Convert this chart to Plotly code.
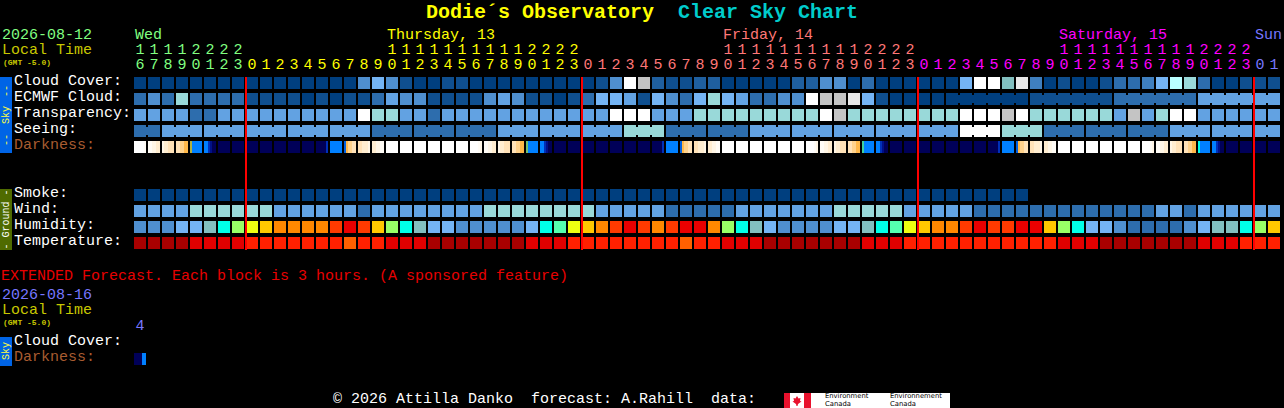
import plotly.graph_objects as go

# ---------- data ----------
HOURS = [16,17,18,19,20,21,22,23,
         0,1,2,3,4,5,6,7,8,9,10,11,12,13,14,15,16,17,18,19,20,21,22,23,
         0,1,2,3,4,5,6,7,8,9,10,11,12,13,14,15,16,17,18,19,20,21,22,23,
         0,1,2,3,4,5,6,7,8,9,10,11,12,13,14,15,16,17,18,19,20,21,22,23,
         0,1]
DAY_FIRST_COLUMN = [0, 8, 32, 56, 80]
DAY_COLORS = ["#80ff80", "#ffff00", "#ff7777", "#ff00ff", "#7777ff"]
DAY_NAMES = ["Wed", "Thursday, 13", "Friday, 14", "Saturday, 15", "Sun"]
DAY_NAME_COLUMN = [0, 18, 42, 66, 80]

# Level indices into PALETTE
CLOUD_COVER = [0,0,0,0,0,0,0,0,0,0,
               0,0,0,0,0,0,3,5,3,1,
               0,0,1,1,0,0,0,0,0,0,
               0,0,0,1,3,7,8,13,1,1,
               13,13,0,0,0,0,0,13,13,3,
               3,0,2,0,0,0,0,0,0,5,
               7,7,10,9,12,0,1,0,0,1,
               2,2,12,5,11,6,2,0,0,1,
               1,1]
ECMWF_CLOUD = [2,3,2,6,2,2,2,2,1,1,
               1,1,0,1,0,1,1,2,4,3,
               3,1,1,1,1,3,4,3,1,1,
               0,1,2,5,5,4,1,5,3,2,
               5,6,5,4,2,2,3,3,7,8,
               8,9,5,1,0,0,0,0,0,0,
               0,0,0,0,1,1,1,1,1,1,
               2,2,2,2,2,2,4,4,4,4,
               4,4]
TRANSPARENCY = [4,4,4,4,2,2,4,4,4,4,
                4,4,4,4,4,4,7,6,6,4,
                4,2,4,4,4,4,4,4,4,4,
                4,4,4,4,7,7,7,4,4,4,
                6,6,6,6,6,6,6,6,6,7,
                8,6,6,6,6,6,6,6,6,7,
                7,7,8,7,6,6,6,6,6,6,
                4,8,4,6,7,7,4,4,4,4,
                4,4]
SEEING = [2,2,4,4,4,4,4,4,4,4,
          4,4,4,4,4,4,4,2,2,2,
          2,2,2,2,2,2,4,4,4,4,
          4,4,4,4,4,6,6,6,2,2,
          2,2,2,2,4,4,4,4,4,4,
          4,4,4,4,4,4,4,4,4,7,
          7,7,6,6,6,2,2,2,2,2,
          2,2,2,2,4,4,4,4,4,4,
          4,4]
SMOKE = [0,0,0,0,0,0,0,0,0,0,
         0,0,0,0,0,0,0,0,0,0,
         0,0,0,0,0,0,0,0,0,0,
         0,0,0,0,0,0,0,0,0,0,
         0,0,0,0,0,0,0,0,0,0,
         0,0,0,0,0,0,0,0,0,0,
         0,0,0,0,None,None,None,None,None,None,
         None,None,None,None,None,None,None,None,None,None,
         None,None]
WIND = [4,4,4,4,6,6,6,6,6,6,
        4,4,4,4,4,4,2,4,4,4,
        4,4,4,4,4,6,6,6,6,6,
        6,6,6,4,4,4,4,4,2,2,
        2,2,2,4,4,4,4,4,4,4,
        6,6,6,6,6,4,4,4,4,4,
        2,2,2,2,2,2,2,2,2,2,
        2,2,2,4,4,2,4,4,4,4,
        4,4]
HUMIDITY = [3,3,3,5,5,10,14,16,17,18,
            19,19,19,19,20,21,20,18,16,14,
            10,5,5,3,3,3,3,3,5,14,
            15,17,18,19,20,21,20,19,20,21,
            21,19,16,14,10,5,3,3,3,3,
            5,5,10,14,15,17,18,19,19,20,
            21,20,20,21,21,18,16,14,5,5,
            3,2,2,2,2,3,5,10,10,14,
            16,18]
TEMPERATURE = [22,22,22,22,23,23,23,23,24,24,
               24,24,24,24,24,25,24,24,23,23,
               23,22,22,22,22,22,22,22,23,23,
               23,24,24,24,24,24,24,24,24,25,
               24,24,23,23,23,22,22,22,22,22,
               22,22,23,23,23,24,24,24,24,24,
               24,24,24,24,24,24,23,23,23,22,
               22,22,22,22,22,22,23,23,23,24,
               24,24]
PALETTE = ["#003f7f","#0f4f8f","#2d6dad","#4f8fcf","#62a2e2","#74b4f4","#99d9d9",
           "#ffffff","#c4c4c4","#e8e8e8","#82bfbf","#b9ffff","#3f7fbf","#1f5f9f",
           "#00ffe8","#55ffb0","#99ff66","#eeff11","#ffc800","#ff8800","#ff3a00",
           "#ea0000","#a80000","#e00000","#ff2000","#ff6000"]

# Darkness: six samples across each block
DARKNESS = ["WWWWWV","VVIICC","ICCEEE","EEPPOO","YBBBBB","BBMDNN","NNNNNN","NNNNNN",
            "NNNNNN","NNNNNN","NNNNNN","NNNNNN","NNNNNN","NNNNNM","BBBBBB","UOPPEE",
            "EECCCI","CCIIVV","WWWWWW","WWWWWW","WWWWWW","WWWWWW","WWWWWW","WWWWWW",
            "WWWWVI","VVIICC","ICCEEE","EEPPOO","GBBBBB","BBMDNN","NNNNNN","NNNNNN",
            "NNNNNN","NNNNNN","NNNNNN","NNNNNN","NNNNNN","NNNNNM","BBBBBB","UOPPEE",
            "EECCCI","CCIIVV","WWWWWW","WWWWWW","WWWWWW","WWWWWW","WWWWWW","WWWWWW",
            "WWWWVI","VVIICC","ICCEEE","EEPPOO","TBBBBB","BBMDNN","NNNNNN","NNNNNN",
            "NNNNNN","NNNNNN","NNNNNN","NNNNNN","NNNNNN","NNNNNM","BBBBBB","UOPPEE",
            "EECCCI","CCIIVV","WWWWWW","WWWWWW","WWWWWW","WWWWWW","WWWWWW","WWWWWW",
            "WWWWVI","VVIICC","ICCEEE","EEPPOO","XBBBBB","BBMDNN","NNNNNN","NNNNNN",
            "NNNNNN","NNNNNN"]
EXTENDED_DARKNESS = ["NNNNBB"]
EXTENDED_HOURS = [4]
DARK_CODES = "WVICEPOYGTXBUMDN"
DARK_COLORS = ["#ffffff","#fffcf6","#fff6e6","#ffedd0","#ffe2b8","#ffd28c","#ffb84a",
               "#b0b040","#70c070","#40d0a0","#00ffe8","#0080ff","#0060e0","#0030b8",
               "#001088","#000058"]

# Blocks that the chart joins together
SEEING_BLOCK_FIRST = [0,2,5,8,11,14,17,20,23,26,29,32,35,38,41,44,47,50,53,56,59,62,65,68,71,74,77,80]
ECMWF_BLOCK_FIRST = [58,64,70,76]
ECMWF_BLOCK_LEN = 6
MIDNIGHT_COLUMNS = [8,32,56,80]

ROW_LABELS = ["Cloud Cover:","ECMWF Cloud:","Transparency:","Seeing:","Darkness:",
              "Smoke:","Wind:","Humidity:","Temperature:"]
ROW_LABEL_ROWS = [0,1,2,3,4,7,8,9,10]

# ---------- geometry: axis units <-> page pixels ----------
W, H = 1284, 408
X = lambda px: (px - 140) / 14
Y = lambda py: (py - 83) / 16
FONT = "Liberation Mono, DejaVu Sans Mono, monospace"

fig = go.Figure()

def scale(colors):
    n = len(colors) - 1
    return [[i / n, c] for i, c in enumerate(colors)]

cols = list(range(len(HOURS)))
blank = [None] * len(HOURS)
main_z = [CLOUD_COVER, ECMWF_CLOUD, TRANSPARENCY, SEEING, blank, blank, blank,
          SMOKE, WIND, HUMIDITY, TEMPERATURE]
fig.add_trace(go.Heatmap(x=cols, y=list(range(11)), z=main_z, xgap=2, ygap=4,
                         colorscale=scale(PALETTE), zmin=0, zmax=len(PALETTE) - 1,
                         showscale=False, hoverinfo="skip"))

def dark_row(blocks, y):
    xs, zs = [], []
    for c, s in enumerate(blocks):
        for k in range(7):
            xs.append(c + (2 * k - 5) / 14)
            zs.append(DARK_CODES.index(s[k]) if k < 6 else None)
    fig.add_trace(go.Heatmap(x=xs, y=[y], z=[zs], ygap=4, xgap=0,
                             colorscale=scale(DARK_COLORS), zmin=0, zmax=len(DARK_COLORS) - 1,
                             showscale=False, hoverinfo="skip"))

dark_row(DARKNESS, 4)
dark_row(EXTENDED_DARKNESS, Y(359))

# connectors between joined blocks
def connectors(values, row, firsts, lengths):
    by_color = {}
    for f, n in zip(firsts, lengths):
        last = min(f + n - 1, len(values) - 1)
        if last > f:
            by_color.setdefault(values[f], []).extend([(f, last)])
    for lvl, segs in by_color.items():
        xs, ys = [], []
        for a, b in segs:
            xs += [a, b, None]
            ys += [row, row, None]
        fig.add_trace(go.Scatter(x=xs, y=ys, mode="lines", hoverinfo="skip", showlegend=False,
                                 line=dict(color=PALETTE[lvl], width=8)))

see_len = [b - a for a, b in zip(SEEING_BLOCK_FIRST, SEEING_BLOCK_FIRST[1:] + [len(HOURS)])]
connectors(SEEING, 3, SEEING_BLOCK_FIRST, see_len)
connectors(ECMWF_CLOUD, 1, ECMWF_BLOCK_FIRST, [ECMWF_BLOCK_LEN] * len(ECMWF_BLOCK_FIRST))

# midnight lines
xs, ys = [], []
for c in MIDNIGHT_COLUMNS:
    xs += [c - 6 / 14, c - 6 / 14, None]
    ys += [Y(77), Y(250), None]
fig.add_trace(go.Scatter(x=xs, y=ys, mode="lines", hoverinfo="skip", showlegend=False,
                         line=dict(color="#ff0000", width=2)))

# hour digits
for d, first in enumerate(DAY_FIRST_COLUMN):
    end = DAY_FIRST_COLUMN[d + 1] if d + 1 < len(DAY_FIRST_COLUMN) else len(HOURS)
    cc = cols[first:end]
    hh = HOURS[first:end]
    fig.add_trace(go.Scatter(x=cc, y=[Y(65)] * len(cc), mode="text", text=[str(h % 10) for h in hh],
                             textfont=dict(family=FONT, size=15, color=DAY_COLORS[d]),
                             hoverinfo="skip", showlegend=False))
    tx = [c for c, h in zip(cc, hh) if h >= 10]
    tt = [str(h // 10) for h in hh if h >= 10]
    fig.add_trace(go.Scatter(x=tx, y=[Y(50)] * len(tx), mode="text", text=tt,
                             textfont=dict(family=FONT, size=15, color=DAY_COLORS[d]),
                             hoverinfo="skip", showlegend=False))

fig.add_trace(go.Scatter(x=[0], y=[Y(326)], mode="text", text=[str(h) for h in EXTENDED_HOURS],
                         textfont=dict(family=FONT, size=15, color="#7777ff"),
                         hoverinfo="skip", showlegend=False))

anns = []
def ann(text, px, py, color="#ffffff", size=15, family=FONT, angle=0, anchor="left"):
    if anchor == "left":          # text sits one pixel left of / below the anchor in the reference
        px, py = px - 1, py + 1
    anns.append(dict(text=text, x=px / W, y=1 - py / H, xref="paper", yref="paper",
                     xanchor=anchor, yanchor="middle", showarrow=False, textangle=angle,
                     borderpad=0, font=dict(family=family, size=size, color=color)))

ann("<b>Dodie´s Observatory</b>", 426, 11, "#ffff00", 20)
ann("<b>Clear Sky Chart</b>", 678, 11, "#00cccc", 20)
ann("2026-08-12", 2, 34.5, "#80ff80")
ann("Local Time", 2, 49.5, "#c8c800")
ann("<b>(GMT -5.0)</b>", 3, 61, "#c8c800", 8)
for name, c, col in zip(DAY_NAMES, DAY_NAME_COLUMN, DAY_COLORS):
    ann(name, 134 + 14 * c + 1, 34.5, col)

for lab, r in zip(ROW_LABELS, ROW_LABEL_ROWS):
    ann(lab, 14, 80.5 + 16 * r, "#a85c30" if lab.startswith("Dark") else "#ffffff")

ann("EXTENDED Forecast. Each block is 3 hours. (A sponsored feature)", 1, 275.5, "#e80000")
ann("2026-08-16", 2, 294.5, "#7777ff")
ann("Local Time", 2, 309.5, "#c8c800")
ann("<b>(GMT -5.0)</b>", 3, 321, "#c8c800", 8)
ann("Cloud Cover:", 14, 340.5)
ann("Darkness:", 14, 356.5, "#a85c30")
ann("© 2026 Attilla Danko  forecast: A.Rahill  data:", 333, 398.5)

# side bands
shapes = []
def rect(x0, y0, x1, y1, color):
    shapes.append(dict(type="rect", xref="x", yref="y", x0=X(x0), x1=X(x1), y0=Y(y0), y1=Y(y1),
                       fillcolor=color, line=dict(width=0), layer="below"))

rect(0, 77, 12, 153, "#0064e6")
rect(0, 189, 12, 250, "#4f6b00")
rect(0, 337, 12, 366, "#0064e6")
ann("--", 6, 91, "#ffff40", 10, angle=-90, anchor="center")
ann("Sky", 6, 115, "#ffff40", 10, angle=-90, anchor="center")
ann("--", 6, 140, "#ffff40", 10, angle=-90, anchor="center")
ann("- Ground -", 6, 219.5, "#ffffff", 10, angle=-90, anchor="center")
ann("Sky", 6, 351, "#ffff40", 10, angle=-90, anchor="center")

# logo
rect(784, 393, 950, 408, "#ffffff")
rect(784, 393, 790, 408, "#e8112d")
rect(804, 393, 811, 408, "#e8112d")
leaf = [(797,396),(798.5,398.5),(800.5,398),(800,401),(801.5,401.5),(798,404),(797.5,406),
        (796.5,406),(796,404),(792.5,401.5),(794,401),(793.5,398),(795.5,398.5)]
path = "M " + " L ".join(f"{X(a):.4f},{Y(b):.4f}" for a, b in leaf) + " Z"
shapes.append(dict(type="path", xref="x", yref="y", path=path, fillcolor="#e8112d", line=dict(width=0)))
LOGO_FONT = "DejaVu Sans"
ann("Environment", 825, 395, "#000000", 6.8, LOGO_FONT)
ann("Canada", 825, 403, "#000000", 6.8, LOGO_FONT)
ann("Environnement", 890, 395, "#000000", 6.8, LOGO_FONT)
ann("Canada", 890, 403, "#000000", 6.8, LOGO_FONT)

fig.update_layout(
    width=W, height=H, margin=dict(l=0, r=0, t=0, b=0, pad=0),
    paper_bgcolor="#000000", plot_bgcolor="#000000", showlegend=False,
    annotations=anns, shapes=shapes,
    xaxis=dict(range=[X(0), X(W)], visible=False, fixedrange=True),
    yaxis=dict(range=[Y(H), Y(0)], visible=False, fixedrange=True),
)
fig.write_html("out.html", config=dict(displayModeBar=False),
               post_script="document.body.style.margin='0';document.body.style.background='#000';document.body.style.overflow='hidden';")
